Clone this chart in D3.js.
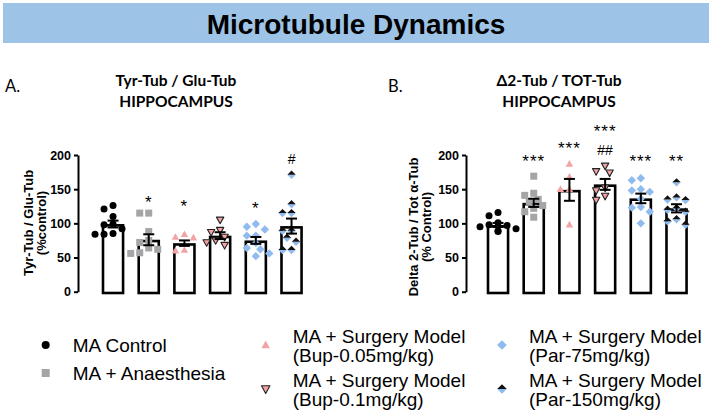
<!DOCTYPE html>
<html>
<head>
<meta charset="utf-8">
<script src="https://cdn.jsdelivr.net/npm/d3@7"></script>
<style>
  html, body { margin: 0; padding: 0; background: #fff; }
  svg { display: block; }
</style>
</head>
<body>
<svg id="chart" width="709" height="412"></svg>
<script>
// ---------------- DATA ----------------
const groups = ["MA Control", "MA + Anaesthesia", "Bup-0.05mg/kg", "Bup-0.1mg/kg", "Par-75mg/kg", "Par-150mg/kg"];
const legendLine1 = ["MA Control", "MA + Anaesthesia", "MA + Surgery Model", "MA + Surgery Model", "MA + Surgery Model", "MA + Surgery Model"];
const legendLine2 = ["", "", "(Bup-0.05mg/kg)", "(Bup-0.1mg/kg)", "(Par-75mg/kg)", "(Par-150mg/kg)"];
const yTicks = [0, 50, 100, 150, 200];

// Panel A: Tyr-Tub / Glu-Tub
const tyrMeans = [99, 76, 71, 82, 75, 96];
const tyrSem = [5, 8, 4, 5, 5, 11];
const tyrPoints = [
  [126, 121, 110, 99, 98, 92, 85, 84, 84],
  [115, 115, 88, 75, 72, 64, 62, 57, 56],
  [84, 80, 79, 61, 60],
  [105, 90, 87, 80, 75, 72, 68],
  [99, 95, 91, 82, 82, 71, 64, 62, 56, 52],
  [171, 128, 115, 115, 89, 89, 79, 73, 61, 61]
];
const tyrSig = ["", "*", "*", "", "*", "#"];
const tyrSigLevel = [0, 137, 131, 0, 128, 194];

// Panel B: Delta2-Tub / TOT-Tub
const deltaMeans = [97.6, 130, 149, 157, 136.5, 122];
const deltaSem = [3, 6, 16, 8, 7, 6];
const deltaPoints = [
  [116, 111, 101, 98, 97, 95, 92, 89, 88],
  [169, 144, 141, 135, 132, 126, 122, 117, 109],
  [187, 168, 150, 150, 98],
  [184, 176, 174, 152, 148, 140, 134],
  [166, 163, 150, 148, 146, 136, 124, 123, 117, 100],
  [160, 138, 135, 134, 122, 120, 117, 106, 103, 98]
];
const deltaSig = ["", "***", "***", "***", "***", "**"];
const deltaSigLevel = [0, 197, 217, 241, 197, 197];
const deltaSig2 = ["", "", "", "##", "", ""];
const deltaSig2Level = [0, 0, 0, 208, 0, 0];

// ---------------- STYLE ----------------
const colGray = "#a5a5a7";
const colPink = "#f4a3a5";
const colBlue = "#8fbbee";
const ARIAL = "'Liberation Sans', Arial, sans-serif";
const CALIBRI = "Lato, 'Open Sans', sans-serif";

const svg = d3.select("#chart");
svg.append("rect").attr("width", 709).attr("height", 412).attr("fill", "#fff");

// Banner
svg.append("rect").attr("x", 3).attr("y", 3).attr("width", 706).attr("height", 40).attr("fill", "#9dc3e6");
svg.append("text").attr("x", 356).attr("y", 34).attr("text-anchor", "middle")
  .attr("font-family", ARIAL).attr("font-weight", "bold").attr("font-size", 28).attr("fill", "#000")
  .text("Microtubule Dynamics");

// marker drawing
function markerPath(sel, i, s) {
  if (i === 0) {
    sel.append("circle").attr("r", s).attr("fill", "#000");
  } else if (i === 1) {
    sel.append("rect").attr("x", -s).attr("y", -s).attr("width", 2 * s).attr("height", 2 * s).attr("fill", colGray);
  } else if (i === 2) {
    sel.append("path").attr("d", `M0,${-s * 1.1}L${s * 1.05},${s * 0.8}L${-s * 1.05},${s * 0.8}Z`).attr("fill", colPink);
  } else if (i === 3) {
    sel.append("path").attr("d", `M0,${s * 1.1}L${s * 1.05},${-s * 0.8}L${-s * 1.05},${-s * 0.8}Z`)
      .attr("fill", colPink).attr("stroke", "#222").attr("stroke-width", 1.1).attr("stroke-linejoin", "round");
  } else if (i === 4) {
    const d = s * 1.2;
    sel.append("path").attr("d", `M0,${-d}L${d},0L0,${d}L${-d},0Z`).attr("fill", colBlue);
  } else {
    const d = s * 1.2;
    sel.append("path").attr("d", `M${-d},0L0,${d}L${d},0Z`).attr("fill", colBlue);
    sel.append("path").attr("d", `M${-d},0L0,${-d}L${d},0Z`).attr("fill", "#111");
  }
}

function drawPanel(opt) {
  const y = d3.scaleLinear().domain([0, 200]).range([291.7, 155]);
  const x = d3.scaleBand().domain(groups).range(opt.xRange).paddingInner(0.365).paddingOuter(0.2);
  const g = svg.append("g");

  // axis
  const axis = d3.axisLeft(y).tickValues(yTicks).tickSize(4).tickSizeOuter(0).tickPadding(3);
  const ag = g.append("g").attr("transform", `translate(${opt.axisX},0)`).call(axis);
  ag.select(".domain").attr("stroke", "#000").attr("stroke-width", 2);
  ag.selectAll(".tick line").attr("stroke", "#000").attr("stroke-width", 2);
  ag.selectAll(".tick text").attr("font-family", ARIAL).attr("font-weight", "bold").attr("font-size", 12.5).attr("fill", "#000");

  // y label
  const yl = g.append("text").attr("transform", `translate(${opt.ylabX},${opt.ylabY}) rotate(-90)`)
    .attr("text-anchor", "middle").attr("font-family", ARIAL).attr("font-weight", "bold").attr("font-size", 13).attr("fill", "#000");
  yl.append("tspan").attr("x", 0).attr("y", 0).text(opt.ylab1);
  yl.append("tspan").attr("x", 0).attr("y", 13).text(opt.ylab2);

  const bw = x.bandwidth();
  const sw = 2.6;
  // bars
  g.selectAll(".bar").data(groups).join("rect")
    .attr("x", d => x(d) + sw / 2).attr("width", bw - sw)
    .attr("y", (d, i) => y(opt.means[i]) + sw / 2)
    .attr("height", (d, i) => y(0) - y(opt.means[i]))
    .attr("fill", "#fff").attr("stroke", "#000").attr("stroke-width", sw);

  // points with simple beeswarm placement
  const ms = 3.5;
  groups.forEach((gname, i) => {
    const cx = x(gname) + bw / 2;
    const placed = [];
    const cand = [0, -4.5, 4.5, -9, 9, -13.5, 13.5, -18, 18];
    opt.points[i].slice().sort((a, b) => b - a).forEach(v => {
      const py = y(v);
      let off = 0;
      for (const c of cand) {
        if (placed.every(p => Math.hypot(p[0] - c, p[1] - py) >= 7.2)) { off = c; break; }
      }
      placed.push([off, py]);
      const mg = g.append("g").attr("transform", `translate(${cx + off},${py})`);
      markerPath(mg, i, ms);
    });
  });

  // error bars
  groups.forEach((gname, i) => {
    const cx = x(gname) + bw / 2;
    const m = opt.means[i], s = opt.sem[i];
    const eg = g.append("g").attr("stroke", "#000").attr("stroke-width", 2).attr("fill", "none");
    eg.append("line").attr("x1", cx).attr("x2", cx).attr("y1", y(m + s)).attr("y2", y(m - s));
    eg.append("line").attr("x1", cx - 5.5).attr("x2", cx + 5.5).attr("y1", y(m + s)).attr("y2", y(m + s));
    eg.append("line").attr("x1", cx - 5.5).attr("x2", cx + 5.5).attr("y1", y(m - s)).attr("y2", y(m - s));
  });

  // significance marks
  groups.forEach((gname, i) => {
    const cx = x(gname) + bw / 2;
    const put = (txt, lvl) => {
      if (!txt) return;
      const isHash = txt[0] === "#";
      const fs = isHash ? 14 : 17;
      const base = y(lvl) + (isHash ? 0.36 * fs : 0.6 * fs);
      g.append("text").attr("x", cx).attr("y", base).attr("text-anchor", "middle")
        .attr("font-family", ARIAL).attr("font-size", fs).attr("fill", "#000")
        .attr("letter-spacing", isHash ? 0 : 1).text(txt);
    };
    put(opt.sig[i], opt.sigLevel[i]);
    if (opt.sig2) put(opt.sig2[i], opt.sig2Level[i]);
  });

  // titles
  g.append("text").attr("x", opt.titleX).attr("y", 86).attr("text-anchor", "middle")
    .attr("font-family", CALIBRI).attr("font-weight", "bold").attr("font-size", 15.5).attr("fill", "#000").text(opt.title);
  g.append("text").attr("x", opt.titleX).attr("y", 106.5).attr("text-anchor", "middle")
    .attr("font-family", CALIBRI).attr("font-weight", "bold").attr("font-size", 15.5).attr("fill", "#000").text("HIPPOCAMPUS");
  g.append("text").attr("x", opt.letterX).attr("y", 92).attr("font-family", CALIBRI).attr("font-size", 16.5).attr("fill", "#000").text(opt.letter);
}

drawPanel({
  xRange: [94.56, 310], axisX: 78, ylabX: 33, ylabY: 223,
  ylab1: "Tyr-Tub / Glu-Tub", ylab2: "(%control)",
  means: tyrMeans, sem: tyrSem, points: tyrPoints,
  sig: tyrSig, sigLevel: tyrSigLevel,
  title: "Tyr-Tub / Glu-Tub", titleX: 176, letter: "A.", letterX: 5
});
drawPanel({
  xRange: [479.56, 695], axisX: 466, ylabX: 418, ylabY: 227,
  ylab1: "Delta 2-Tub / Tot \u03B1-Tub", ylab2: "(% Control)",
  means: deltaMeans, sem: deltaSem, points: deltaPoints,
  sig: deltaSig, sigLevel: deltaSigLevel, sig2: deltaSig2, sig2Level: deltaSig2Level,
  title: "\u03942-Tub / TOT-Tub", titleX: 559, letter: "B.", letterX: 388
});

// ---------------- LEGEND ----------------
const legX = [45.7, 45.7, 265.7, 265.7, 502, 502];
const legY = [345, 373, 345, 389, 345, 389];
groups.forEach((gname, i) => {
  const lg = svg.append("g");
  const mg = lg.append("g").attr("transform", `translate(${legX[i]},${legY[i]})`);
  markerPath(mg, i, 4);
  const t = lg.append("text").attr("font-family", ARIAL).attr("font-size", 19).attr("fill", "#000");
  const tx = legX[i] + 27;
  if (legendLine2[i]) {
    t.append("tspan").attr("x", tx).attr("y", legY[i] - 2).text(legendLine1[i]);
    t.append("tspan").attr("x", tx).attr("y", legY[i] + 17).text(legendLine2[i]);
  } else {
    t.append("tspan").attr("x", tx).attr("y", legY[i] + 7).text(legendLine1[i]);
  }
});
</script>
</body>
</html>
